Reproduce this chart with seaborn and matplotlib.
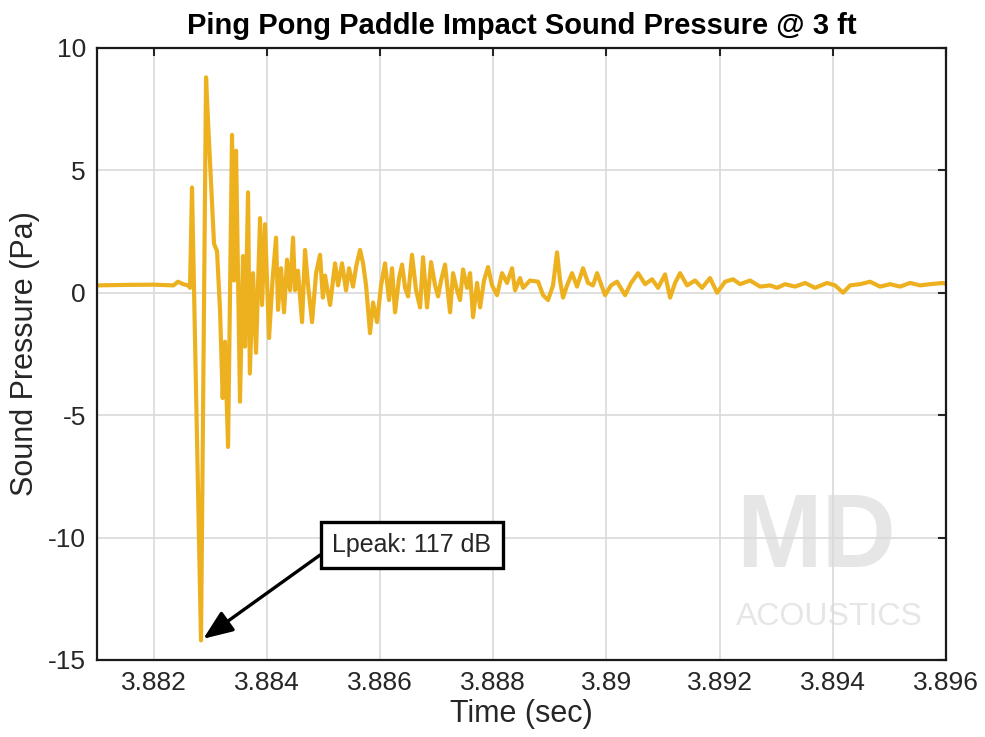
#!/usr/bin/env python3

import matplotlib
matplotlib.use("Agg")
import matplotlib.pyplot as plt
import pandas as pd
import seaborn as sns
from typing import List


# time offsets after 3.881 s, in ms, and sound pressure in Pa
t_ms: List[float] = [
    0.0, 0.5, 1.0, 1.35, 1.431, 1.52, 1.608, 1.643, 1.678, 1.837, 1.926, 1.961,
    2.067, 2.12, 2.173, 2.22, 2.26, 2.315, 2.385, 2.42, 2.456, 2.526, 2.579, 2.615,
    2.668, 2.70, 2.756, 2.809, 2.88, 2.915, 2.968, 3.039, 3.10, 3.163, 3.198, 3.251,
    3.304, 3.357, 3.41, 3.463, 3.498, 3.55, 3.622, 3.675, 3.728, 3.799, 3.87, 3.94,
    3.99, 4.028, 4.117, 4.205, 4.258, 4.329, 4.399, 4.452, 4.523, 4.58, 4.647, 4.70,
    4.753, 4.823, 4.876, 4.947, 5.018, 5.088, 5.159, 5.212, 5.265, 5.336, 5.389, 5.442,
    5.495, 5.565, 5.636, 5.707, 5.76, 5.83, 5.901, 5.972, 6.025, 6.078, 6.148, 6.237,
    6.29, 6.36, 6.413, 6.466, 6.537, 6.59, 6.643, 6.714, 6.767, 6.837, 6.908, 6.979,
    7.067, 7.155, 7.244, 7.332, 7.385, 7.473, 7.527, 7.65, 7.792, 7.88, 7.968, 8.056,
    8.127, 8.18, 8.233, 8.304, 8.392, 8.48, 8.586, 8.675, 8.763, 8.834, 8.975, 9.081,
    9.187, 9.329, 9.435, 9.558, 9.682, 9.806, 9.912, 10.035, 10.124, 10.212, 10.30, 10.424,
    10.565, 10.689, 10.83, 10.954, 11.095, 11.237, 11.36, 11.537, 11.714, 11.89, 12.014, 12.155,
    12.332, 12.509, 12.685, 12.898, 13.039, 13.18, 13.304, 13.481, 13.657, 13.834, 14.011, 14.187,
    14.364, 14.541, 14.717, 14.947, 15.0,
]
pressure: List[float] = [
    0.3, 0.32, 0.33, 0.3, 0.45, 0.35, 0.3, 0.2, 4.3, -14.2, 8.8, 7.0,
    2.0, 1.7, -0.7, -4.3, -2.0, -6.3, 6.45, 0.5, 5.8, -4.45, 1.5, -2.2,
    4.1, -3.3, 0.8, -2.45, 3.05, -0.5, 2.8, -1.85, 0.5, 2.25, -0.7, 1.0,
    -0.8, 1.35, 0.1, 2.25, 0.1, 0.9, -1.2, 1.75, 0.3, -1.2, 0.8, 1.55,
    -0.2, 0.7, -0.5, 1.2, 0.3, 1.2, 0.1, 1.0, 0.25, 1.1, 1.75, 1.2,
    0.3, -1.65, -0.4, -1.2, 0.3, 1.2, -0.3, 1.0, -0.8, 0.6, 1.15, 0.2,
    -0.15, 1.55, 0.1, -0.6, 1.45, -0.6, 1.25, 0.3, -0.15, 0.5, 1.15, -0.8,
    0.8, 0.1, -0.3, 0.95, 0.2, 0.8, -1.0, 0.4, -0.6, 0.5, 1.05, 0.3,
    -0.1, 0.8, 0.4, 1.0, 0.1, 0.6, 0.2, 0.5, 0.45, -0.1, -0.3, 0.3,
    1.65, 0.5, -0.2, 0.3, 0.8, 0.25, 1.0, 0.4, 0.3, 0.8, -0.1, 0.3,
    0.45, -0.1, 0.4, 0.8, 0.35, 0.55, 0.2, 0.75, -0.2, 0.4, 0.8, 0.3,
    0.5, 0.2, 0.6, 0.0, 0.45, 0.55, 0.35, 0.5, 0.25, 0.3, 0.2, 0.35,
    0.25, 0.4, 0.2, 0.4, 0.3, 0.0, 0.3, 0.35, 0.45, 0.25, 0.35, 0.25,
    0.4, 0.3, 0.35, 0.4, 0.35,
]

x_ticks: List[float] = [3.882, 3.884, 3.886, 3.888, 3.890, 3.892, 3.894, 3.896]
x_tick_labels: List[str] = ["3.882", "3.884", "3.886", "3.888", "3.89", "3.892", "3.894", "3.896"]
y_ticks: List[int] = [-15, -10, -5, 0, 5, 10]

peak_label: str = "Lpeak: 117 dB"

df = pd.DataFrame({"time": [3.881 + v / 1000 for v in t_ms], "pressure": pressure})

sns.set_style("white")
plt.rcParams["font.family"] = ["Liberation Sans", "DejaVu Sans"]
plt.rcParams["axes.unicode_minus"] = False

fig = plt.figure(figsize=(9.85, 7.37), dpi=100)
ax = fig.add_axes([0.0985, 0.1045, 0.862, 0.8305])

sns.lineplot(data=df, x="time", y="pressure", color="#EDB120", linewidth=3.0,
             estimator=None, ax=ax)

# watermark
ax.text(3.89371, -10.1, "MD", fontsize=74, fontweight="bold", color="#e6e6e6",
        ha="center", va="center", zorder=0.5)
ax.text(3.89393, -13.25, "ACOUSTICS", fontsize=23, color="#e6e6e6",
        ha="center", va="center", zorder=0.5)

# peak annotation
i_min = df["pressure"].idxmin()
ax.annotate(peak_label, xy=(df["time"][i_min], df["pressure"][i_min]),
            xytext=(3.88516, -10.3), fontsize=18, color="#262626",
            ha="left", va="center",
            bbox=dict(boxstyle="square,pad=0.45", fc="white", ec="black", lw=2.4),
            arrowprops=dict(arrowstyle="-|>,head_length=1.0,head_width=0.4",
                            color="black", lw=2.4, shrinkA=0, shrinkB=2,
                            relpos=(0.0, 0.45)))

ax.set_xlim(3.881, 3.896)
ax.set_ylim(-15, 10)
ax.set_xticks(x_ticks)
ax.set_xticklabels(x_tick_labels)
ax.set_yticks(y_ticks)
ax.grid(True, color="#d9d9d9", linewidth=1.2)
ax.set_axisbelow(True)
ax.tick_params(direction="in", length=6, width=1.5, top=True, right=True,
               labelsize=19, labelcolor="#262626", colors="#262626", pad=8)
for sp in ax.spines.values():
    sp.set_visible(True)
    sp.set_color("#1a1a1a")
    sp.set_linewidth(1.6)

ax.set_xlabel("Time (sec)", fontsize=22, color="#262626", labelpad=3)
ax.set_ylabel("Sound Pressure (Pa)", fontsize=22, color="#262626", labelpad=6)
ax.set_title("Ping Pong Paddle Impact Sound Pressure @ 3 ft", fontsize=21,
             fontweight="bold", color="black", pad=10)

fig.savefig("out.png", dpi=100)
